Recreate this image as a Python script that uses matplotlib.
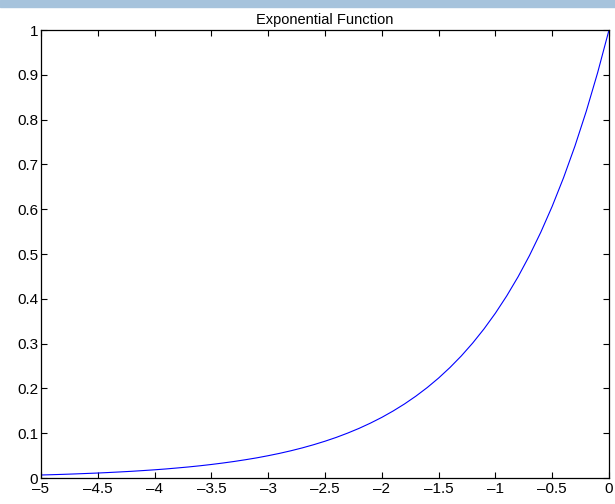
import matplotlib
matplotlib.use("Agg")
import matplotlib.pyplot as plt
from matplotlib.patches import Rectangle

# curve, every 0.1 on x
x_vals = [-5.0, -4.9, -4.8, -4.7, -4.6, -4.5, -4.4, -4.3, -4.2, -4.1,
          -4.0, -3.9, -3.8, -3.7, -3.6, -3.5, -3.4, -3.3, -3.2, -3.1,
          -3.0, -2.9, -2.8, -2.7, -2.6, -2.5, -2.4, -2.3, -2.2, -2.1,
          -2.0, -1.9, -1.8, -1.7, -1.6, -1.5, -1.4, -1.3, -1.2, -1.1,
          -1.0, -0.9, -0.8, -0.7, -0.6, -0.5, -0.4, -0.3, -0.2, -0.1, 0.0]
y_vals = [0.0067, 0.0074, 0.0082, 0.0091, 0.0101, 0.0111, 0.0123, 0.0136, 0.0150, 0.0166,
          0.0183, 0.0202, 0.0224, 0.0247, 0.0273, 0.0302, 0.0334, 0.0369, 0.0408, 0.0450,
          0.0498, 0.0550, 0.0608, 0.0672, 0.0743, 0.0821, 0.0907, 0.1003, 0.1108, 0.1225,
          0.1353, 0.1496, 0.1653, 0.1827, 0.2019, 0.2231, 0.2466, 0.2725, 0.3012, 0.3329,
          0.3679, 0.4066, 0.4493, 0.4966, 0.5488, 0.6065, 0.6703, 0.7408, 0.8187, 0.9048, 1.0]

x_ticks = [-5, -4.5, -4, -3.5, -3, -2.5, -2, -1.5, -1, -0.5, 0]
x_labels = ["\u2013" + "5", "\u20134.5", "\u20134", "\u20133.5", "\u20133", "\u20132.5",
            "\u20132", "\u20131.5", "\u20131", "\u20130.5", "0"]
y_ticks = [0, 0.1, 0.2, 0.3, 0.4, 0.5, 0.6, 0.7, 0.8, 0.9, 1]
y_labels = ["0", "0.1", "0.2", "0.3", "0.4", "0.5", "0.6", "0.7", "0.8", "0.9", "1"]

plt.rcParams["font.family"] = ["Liberation Sans", "DejaVu Sans"]

fig = plt.figure(figsize=(6.15, 5.04), dpi=100)
# light blue strip at the top of the window
fig.patches.append(Rectangle((0, 1 - 7 / 504), 1, 7 / 504, transform=fig.transFigure,
                             color="#a6c3dc", zorder=0))

ax = fig.add_axes([41 / 615, 26 / 504, 568 / 615, 448 / 504])
ax.plot(x_vals, y_vals, color="#0000ff", lw=0.8)

ax.set_xlim(-5, 0)
ax.set_ylim(0, 1)
ax.set_xticks(x_ticks)
ax.set_xticklabels(x_labels)
ax.set_yticks(y_ticks)
ax.set_yticklabels(y_labels)
ax.tick_params(direction="in", length=4.5, width=0.8, labelsize=11,
               top=True, right=True, colors="black")
ax.tick_params(axis="x", pad=3)
ax.tick_params(axis="y", pad=2)
for s in ax.spines.values():
    s.set_linewidth(0.9)

ax.set_title("Exponential Function", fontsize=10.5, pad=4)

fig.savefig("out.png", dpi=100)
